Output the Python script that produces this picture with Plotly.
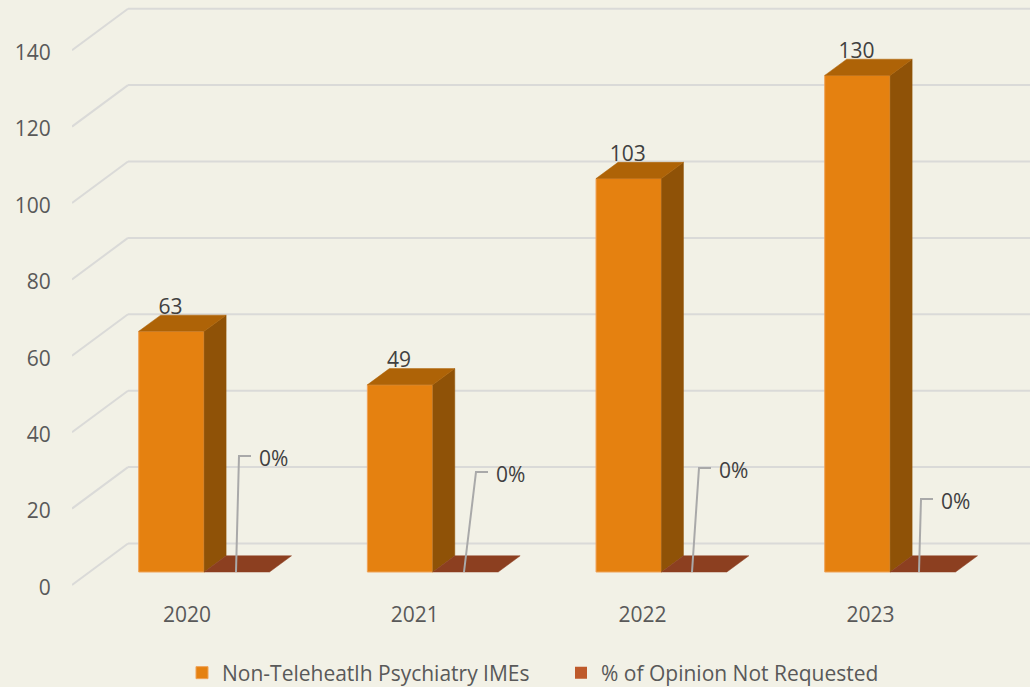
import plotly.graph_objects as go

# ---- data ----
categories = ["2020", "2021", "2022", "2023"]
imes = [63, 49, 103, 130]
pct_not_requested = [0, 0, 0, 0]
y_ticks = [0, 20, 40, 60, 80, 100, 120, 140]
series_names = ["Non-Teleheatlh Psychiatry IMEs", "% of Opinion Not Requested"]

# ---- geometry of the fake 3D box, in axis units ----
PX_X = 228.67          # pixels per category
PX_Y = 3.82            # pixels per value unit
X_LEFT, X_RIGHT = (72 - 187) / PX_X, (1030 - 187) / PX_X
Y_BOTTOM, Y_TOP = (585 - 600) / PX_Y, 585 / PX_Y
BASE = 13 / PX_Y
WALL_DX, WALL_DY = 56 / PX_X, 41.5 / PX_Y
BAR_DX, BAR_DY = 22 / PX_X, 16.2 / PX_Y
BAR_W = 65.4 / PX_X
BAR_OFF = -48.3 / PX_X
TICK_STEP = 227.8 / PX_X   # category labels sit slightly tighter than the bars
TICK_NUDGE = 2.5 / PX_Y    # value labels sit a little below their gridline start

# placement of the 0% callouts (pixels)
CALLOUT_Y = [456, 472, 468, 499]
CALLOUT_X0 = [236, 464, 692, 919]
CALLOUT_X1 = [239, 476, 699, 921]

BG = "#F2F1E6"
FONT = "Open Sans"
FS = 21
TXT = "#595959"
LBL = "#404040"
C_FRONT = "#E58110"
C_SIDE = "#8F5207"
C_TOP = "#AE6307"
C_FLOOR = "#8C3F20"
C_SW2 = "#BE5A2B"
GRID = "#DADAD8"

xs = list(range(len(categories)))
fig = go.Figure()

# front faces
fig.add_trace(go.Bar(x=xs, y=imes, base=BASE, width=BAR_W, offset=BAR_OFF,
                     name=series_names[0], marker=dict(color=C_FRONT, line=dict(color="#EFA257", width=1)),
                     hoverinfo="y"))
fig.add_trace(go.Bar(x=xs, y=pct_not_requested, base=BASE, width=BAR_W, offset=BAR_OFF + BAR_W,
                     name=series_names[1], marker=dict(color=C_SW2, line=dict(width=0)),
                     hoverinfo="y"))


def poly(px, py, color):
    fig.add_trace(go.Scatter(x=px, y=py, mode="lines", fill="toself", fillcolor=color,
                             line=dict(color=color, width=0.5), showlegend=False, hoverinfo="skip"))


for i, v in zip(xs, imes):
    x0 = i + BAR_OFF
    x1 = x0 + BAR_W
    top = BASE + v
    # side and top faces
    poly([x1, x1 + BAR_DX, x1 + BAR_DX, x1, x1],
         [BASE, BASE + BAR_DY, top + BAR_DY, top, BASE], C_SIDE)
    poly([x0, x0 + BAR_DX, x1 + BAR_DX, x1, x0],
         [top, top + BAR_DY, top + BAR_DY, top, top], C_TOP)

for i, v in zip(xs, pct_not_requested):
    x0 = i + BAR_OFF + BAR_W
    x1 = x0 + BAR_W
    top = BASE + v
    poly([x0, x0 + BAR_DX, x1 + BAR_DX, x1, x0],
         [top, top + BAR_DY, top + BAR_DY, top, top], C_FLOOR)

# data labels of the first series
fig.add_trace(go.Scatter(
    x=[i + BAR_OFF + BAR_W / 2 - 1 / PX_X for i in xs],
    y=[BASE + v + BAR_DY - 4 / PX_Y for v in imes],
    text=[str(v) for v in imes], mode="text", textposition="top center",
    textfont=dict(family=FONT, size=FS, color=LBL), showlegend=False, hoverinfo="skip"))

# callouts of the second series
for i, v in enumerate(pct_not_requested):
    xa = (CALLOUT_X0[i] - 187) / PX_X
    xb = (CALLOUT_X1[i] - 187) / PX_X
    xc = xb + 12 / PX_X
    yc = (585 - CALLOUT_Y[i]) / PX_Y
    fig.add_trace(go.Scatter(x=[xa, xb, xc], y=[BASE + v, yc, yc], mode="lines",
                             line=dict(color="#A9A9A9", width=2), showlegend=False, hoverinfo="skip"))
    fig.add_trace(go.Scatter(x=[xc + 8 / PX_X], y=[yc - 5 / PX_Y], text=[f"{v}%"], mode="text",
                             textposition="middle right",
                             textfont=dict(family=FONT, size=FS, color=LBL),
                             showlegend=False, hoverinfo="skip"))

# wall and back gridlines
shapes = []
for t in y_ticks:
    line = dict(color=GRID, width=2)
    shapes.append(dict(type="line", layer="below", xref="x", yref="y", x0=X_LEFT, y0=t,
                       x1=X_LEFT + WALL_DX, y1=t + WALL_DY, line=line))
    shapes.append(dict(type="line", layer="below", xref="x", yref="y", x0=X_LEFT + WALL_DX, y0=t + WALL_DY,
                       x1=X_RIGHT, y1=t + WALL_DY, line=line))

# page is 10 px taller than the window so the legend fits close to the bottom edge
fig.update_layout(
    width=1030, height=697, autosize=False,
    margin=dict(l=72, r=0, t=0, b=97, pad=0),
    paper_bgcolor=BG, plot_bgcolor=BG,
    barmode="overlay", shapes=shapes,
    font=dict(family=FONT, size=FS, color=TXT),
    xaxis=dict(range=[X_LEFT, X_RIGHT], tickvals=[i * TICK_STEP for i in xs], ticktext=categories, showgrid=False,
               zeroline=False, showline=False, ticks="",
               tickfont=dict(family=FONT, size=FS, color=TXT)),
    yaxis=dict(range=[Y_BOTTOM, Y_TOP], tickvals=[t - TICK_NUDGE for t in y_ticks],
               ticktext=[str(t) for t in y_ticks], showgrid=False, zeroline=False,
               showline=False, ticks="outside", ticklen=16, tickcolor="rgba(0,0,0,0)",
               tickfont=dict(family=FONT, size=FS, color=TXT)),
    legend=dict(orientation="h", x=(182 - 72) / 958, xanchor="left", y=-73 / 600, yanchor="middle",
                font=dict(family=FONT, size=FS, color=TXT), bgcolor="rgba(0,0,0,0)",
                entrywidth=334, entrywidthmode="pixels"),
)
fig.write_html("out.html", config={"displayModeBar": False},
               post_script="document.body.style.margin='0';document.body.style.background='#F2F1E6';"
                           "document.documentElement.style.overflow='hidden';document.body.style.overflow='hidden';"
                           "document.body.style.height='687px';")
